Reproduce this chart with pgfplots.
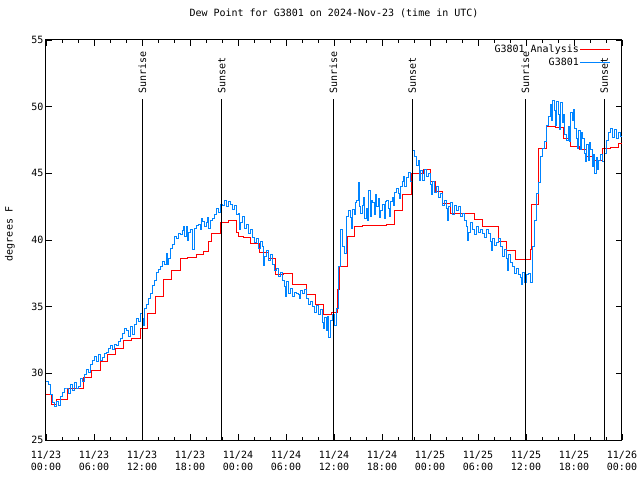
\documentclass[border=0pt]{standalone}
\usepackage{fontspec}
\setmainfont{DejaVu Sans Mono}
\usepackage{pgfplots}
\pgfplotsset{compat=1.18}
\definecolor{obsblue}{RGB}{0,132,255}
\begin{document}
\begin{tikzpicture}[font=\fontsize{10}{12}\selectfont]
\path[use as bounding box] (0,0) rectangle (640pt,480pt);
\begin{axis}[
  at={(46pt,40pt)}, anchor=south west, scale only axis,
  width=576pt, height=400pt,
  xmin=0, xmax=72, ymin=25, ymax=55,
  clip=false,
  xtick={0,6,...,72}, minor x tick num=2,
  xticklabels={{11/23\\00:00},{11/23\\06:00},{11/23\\12:00},{11/23\\18:00},{11/24\\00:00},{11/24\\06:00},{11/24\\12:00},{11/24\\18:00},{11/25\\00:00},{11/25\\06:00},{11/25\\12:00},{11/25\\18:00},{11/26\\00:00}},
  xticklabel style={align=center, font=\fontsize{10}{12}\selectfont, yshift=-8pt},
  ytick={25,30,...,55},
  yticklabel style={xshift=1pt},
  /pgf/number format/assume math mode=true,
  major tick length=6pt, minor tick length=3pt,
  tick style={black, line width=0.9pt},
  axis line style={line width=1pt},
  title={Dew Point for G3801 on 2024-Nov-23 (time in UTC)},
  title style={at={(0.5,1)}, anchor=center, yshift=21pt},
  ylabel={degrees F},
  every axis y label/.style={at={(axis description cs:0,0.5)}, xshift=-36pt, yshift=6pt, rotate=90, anchor=center},
  legend style={at={(1,1)}, anchor=north east, xshift=-11pt, yshift=-4pt, draw=none, fill=none, inner sep=0pt, row sep=1.5pt, nodes={inner sep=1pt}},
  legend cell align=right,
  legend plot pos=right,
  legend image code/.code={\draw[#1] (0pt,0pt) -- (30pt,0pt);},
]
\addplot[red, line width=0.95pt, const plot] coordinates {
(0,28.43) (0.71,27.68) (1.25,28.05) (2.67,28.88) (4.71,29.7) (5.71,30.25)
(6.75,30.88) (7.71,31.45) (8.71,31.88) (9.67,32.5) (10.71,32.63) (11.75,33.38)
(12.71,34.5) (13.63,35.8) (14.67,37.05) (15.71,37.75) (16.75,38.58) (17.71,38.7)
(18.75,38.95) (19.67,39.13) (20.33,39.88) (20.71,40.5) (21.75,41.3) (22.75,41.48)
(23.8,40.6) (24.0,40.25) (24.67,40.2) (25.6,39.75) (26.67,39.08) (27.75,38.63)
(28.67,37.38) (29.67,37.5) (30.75,36.68) (32.6,35.93) (33.7,35.18) (34.67,34.45)
(35.67,34.55) (36.45,36.3) (36.7,38.05) (37.67,40.28) (38.6,41.0) (39.6,41.08)
(42.55,41.2) (43.6,42.2) (44.62,43.38) (45.71,45.0) (47.17,45.3) (48.0,44.38)
(48.63,43.63) (49.58,42.75) (50.5,42.0) (53.54,41.55) (54.58,41.0) (56.54,39.88)
(57.58,39.25) (58.67,38.55) (60.58,39.3) (60.7,42.63) (61.54,46.88) (62.58,48.55)
(63.63,48.45) (64.67,47.58) (65.58,47.05) (66.67,46.8) (67.5,46.25) (68.33,46.0)
(69.58,46.88) (70.5,46.95) (71.54,47.25) (72,47.25)
};
\addlegendentry{G3801 Analysis}
\addplot[obsblue, line width=0.85pt, const plot] coordinates {
(0,29.4) (0.25,29.2) (0.5,28.4) (0.75,27.8) (1,27.5) (1.25,27.9) (1.5,27.6) (1.75,28.3)
(2,28.6) (2.25,28.9) (2.5,28.9) (2.75,28.5) (3,29.2) (3.25,28.7) (3.5,29.3) (3.75,28.9)
(4,29.0) (4.25,29.6) (4.5,29.4) (4.75,29.9) (5,30.3) (5.25,30.1) (5.5,30.7) (5.75,31.0)
(6,31.3) (6.25,30.9) (6.5,31.4) (6.75,31.0) (7,31.2) (7.25,31.5) (7.5,31.6) (7.75,31.9)
(8,32.1) (8.25,31.8) (8.5,32.2) (8.75,32.1) (9,32.4) (9.25,32.6) (9.5,33.0) (9.75,33.4)
(10,33.2) (10.25,32.8) (10.5,33.5) (10.75,32.9) (11,33.7) (11.25,34.1) (11.5,33.9) (11.75,34.5)
(12,34.1) (12.125,33.6) (12.25,34.9) (12.5,35.2) (12.75,35.6) (13,36.0) (13.25,36.6) (13.5,37.0) (13.75,37.6)
(14,37.8) (14.25,38.0) (14.5,38.4) (14.75,38.2) (15,39.0) (15.125,38.2) (15.25,38.6) (15.5,39.4) (15.75,39.7)
(16,40.3) (16.25,40.1) (16.5,40.5) (16.75,40.4) (17,40.7) (17.125,41.0) (17.25,40.3) (17.5,41.0) (17.625,40.0) (17.75,40.6)
(18,40.8) (18.25,39.3) (18.5,40.9) (18.75,41.1) (19,41.2) (19.25,40.8) (19.375,41.6) (19.5,41.4) (19.75,41.0)
(20,41.3) (20.125,41.7) (20.25,40.9) (20.5,41.5) (20.75,41.6) (21,41.9) (21.25,42.4) (21.5,42.1) (21.75,42.7)
(22,42.6) (22.25,43.0) (22.5,42.5) (22.75,42.9) (23,42.7) (23.25,42.3) (23.5,42.6) (23.75,41.9)
(24,42.0) (24.125,40.8) (24.25,41.3) (24.5,41.8) (24.75,40.9) (25,41.2) (25.25,40.5) (25.5,40.8) (25.75,40.2)
(26,39.8) (26.25,40.1) (26.5,39.4) (26.75,39.9) (27,39.5) (27.125,38.1) (27.25,38.8) (27.5,39.2) (27.75,38.5)
(28,38.9) (28.25,38.2) (28.5,37.7) (28.75,37.9) (29,37.3) (29.25,37.6) (29.5,37.0) (29.75,36.5) (29.875,35.8)
(30,36.9) (30.25,36.0) (30.5,36.4) (30.75,35.8) (31,36.1) (31.25,36.0) (31.5,35.9) (31.625,35.6) (31.75,36.2)
(32,36.0) (32.25,36.3) (32.5,35.6) (32.75,35.2) (33,35.4) (33.25,35.0) (33.5,34.6) (33.75,35.1)
(34,34.4) (34.25,34.8) (34.5,33.8) (34.625,33.4) (34.75,34.2) (35,33.2) (35.125,34.3) (35.25,32.7) (35.5,34.0) (35.75,34.4)
(36,33.6) (36.25,34.9) (36.5,38.0) (36.75,40.8) (37,39.5) (37.25,39.0) (37.5,41.8) (37.75,42.2)
(38,41.7) (38.125,40.9) (38.25,42.3) (38.5,41.9) (38.625,42.8) (38.75,43.0) (39,44.3) (39.125,42.5) (39.25,42.0) (39.5,42.6) (39.625,43.2) (39.75,41.6)
(40,42.4) (40.125,41.5) (40.25,43.7) (40.5,41.8) (40.625,43.0) (40.75,42.8) (41,41.9) (41.125,43.4) (41.25,42.5) (41.5,43.1) (41.625,41.7) (41.75,42.2)
(42,42.7) (42.25,41.6) (42.375,42.9) (42.5,43.0) (42.75,42.4) (42.875,41.8) (43,42.9) (43.25,43.2) (43.375,42.6) (43.5,43.6) (43.75,43.9)
(44,43.5) (44.125,43.1) (44.25,44.0) (44.5,44.4) (44.625,44.8) (44.75,44.0) (45,44.7) (45.25,45.1) (45.5,44.4) (45.75,46.7)
(46,46.3) (46.25,45.6) (46.5,46.0) (46.625,44.5) (46.75,45.2) (47,44.5) (47.25,45.3) (47.5,44.8) (47.75,45.0)
(48,44.2) (48.125,43.4) (48.25,44.4) (48.5,43.6) (48.75,44.0) (49,43.2) (49.25,43.5) (49.5,42.6) (49.75,43.0)
(50,42.4) (50.125,41.5) (50.25,42.5) (50.5,42.8) (50.75,41.9) (51,42.6) (51.25,42.2) (51.5,42.5) (51.75,41.8)
(52,42.0) (52.25,41.5) (52.5,41.0) (52.625,40.0) (52.75,40.6) (53,41.3) (53.25,40.8) (53.5,40.4) (53.75,41.0)
(54,40.6) (54.25,40.8) (54.5,40.5) (54.75,40.2) (55,40.8) (55.25,40.5) (55.5,39.9) (55.625,39.2) (55.75,40.1)
(56,39.6) (56.25,39.8) (56.5,40.1) (56.75,39.5) (57,38.8) (57.25,39.3) (57.5,38.6) (57.625,37.7) (57.75,38.9)
(58,38.3) (58.25,38.0) (58.5,37.5) (58.75,37.9) (59,37.4) (59.25,37.2) (59.375,36.7) (59.5,37.6) (59.75,36.8)
(60,37.4) (60.25,37.5) (60.5,36.8) (60.75,39.5) (61,41.5) (61.25,43.5) (61.5,44.3) (61.75,46.3)
(62,46.9) (62.25,47.4) (62.5,48.6) (62.75,49.3) (63,50.2) (63.125,49.0) (63.25,50.5) (63.5,49.7) (63.625,48.6) (63.75,50.4)
(64,49.4) (64.125,48.3) (64.25,50.3) (64.5,48.8) (64.625,49.4) (64.75,47.9) (65,47.5) (65.25,48.5) (65.375,47.4) (65.5,49.6) (65.75,49.0) (65.875,49.8)
(66,48.4) (66.25,47.6) (66.375,46.9) (66.5,48.2) (66.75,46.8) (66.875,48.1) (67,47.6) (67.25,46.5) (67.375,45.9) (67.5,47.2) (67.75,46.0) (67.875,47.3)
(68,46.8) (68.25,45.5) (68.375,46.4) (68.5,45.0) (68.75,46.2) (68.875,45.3) (69,46.0) (69.25,46.4) (69.5,45.9) (69.75,46.5)
(70,47.5) (70.25,48.1) (70.5,48.4) (70.75,47.7) (71,48.3) (71.25,47.6) (71.5,48.1) (71.75,47.8)
(72,47.8)
};
\addlegendentry{G3801}
\addplot[black, line width=1pt, forget plot] coordinates {(12.04,25) (12.04,50.58)};
\addplot[black, line width=1pt, forget plot] coordinates {(21.96,25) (21.96,50.58)};
\addplot[black, line width=1pt, forget plot] coordinates {(35.92,25) (35.92,50.58)};
\addplot[black, line width=1pt, forget plot] coordinates {(45.79,25) (45.79,50.58)};
\addplot[black, line width=1pt, forget plot] coordinates {(59.92,25) (59.92,50.58)};
\addplot[black, line width=1pt, forget plot] coordinates {(69.79,25) (69.79,50.58)};
\node[rotate=90, anchor=west, inner sep=0pt, xshift=2.5pt] at (axis cs:12.04,50.8) {Sunrise};
\node[rotate=90, anchor=west, inner sep=0pt, xshift=2.5pt] at (axis cs:21.96,50.8) {Sunset};
\node[rotate=90, anchor=west, inner sep=0pt, xshift=2.5pt] at (axis cs:35.92,50.8) {Sunrise};
\node[rotate=90, anchor=west, inner sep=0pt, xshift=2.5pt] at (axis cs:45.79,50.8) {Sunset};
\node[rotate=90, anchor=west, inner sep=0pt, xshift=2.5pt] at (axis cs:59.92,50.8) {Sunrise};
\node[rotate=90, anchor=west, inner sep=0pt, xshift=2.5pt] at (axis cs:69.79,50.8) {Sunset};
\end{axis}
\end{tikzpicture}
\end{document}
